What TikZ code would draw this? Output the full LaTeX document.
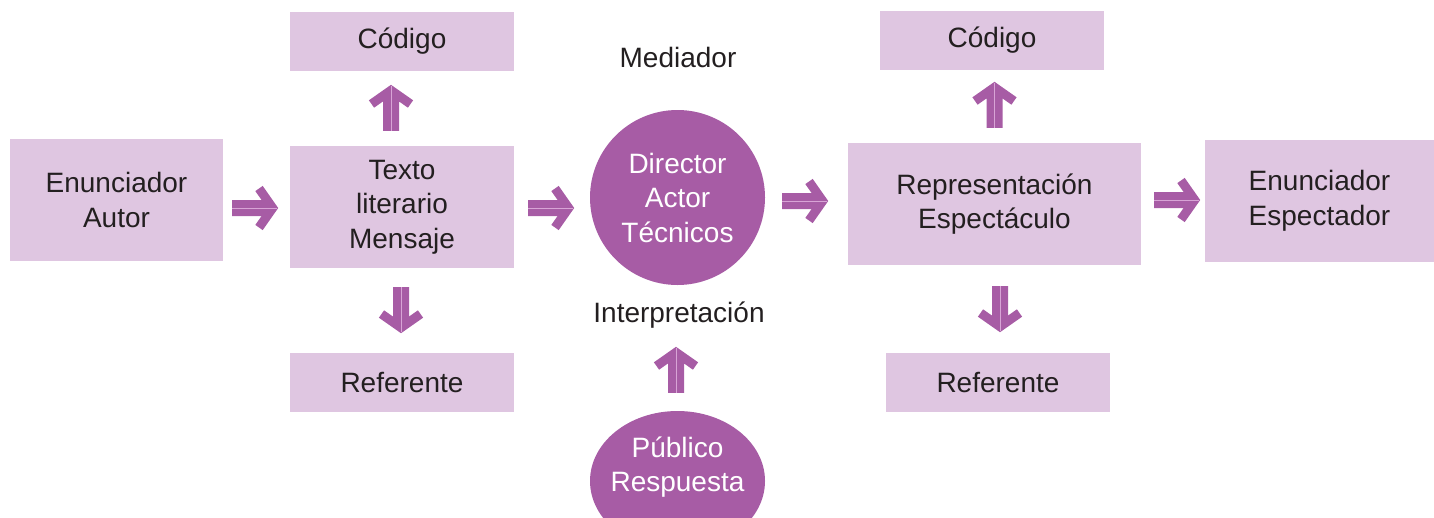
\documentclass[tikz,border=0pt]{standalone}
\usepackage{fontspec}
\setmainfont{Liberation Sans}
\usetikzlibrary{calc,shapes.geometric}
\definecolor{boxfill}{RGB}{223,198,225}
\definecolor{purp}{RGB}{167,92,165}
\definecolor{purpline}{RGB}{216,164,214}
\definecolor{txt}{RGB}{35,31,32}
\tikzset{
  lbox/.style={rectangle, fill=boxfill, draw=none, inner sep=0pt, align=center,
    text=txt, font=\fontsize{28}{34.5}\selectfont},
  pshape/.style={fill=purp, draw=none, inner sep=0pt, align=center,
    text=white, font=\fontsize{28}{34.5}\selectfont},
  plain/.style={inner sep=0pt, text=txt, font=\fontsize{28}{34.5}\selectfont},
  whitetxt/.style={inner sep=0pt, text=white, align=center, font=\fontsize{28}{34.5}\selectfont},
  fatfill/.style={fill=purp, draw=none},
  fatmid/.style={draw=purpline, line width=0.8pt}
}
\newcommand{\fatarrow}[2]{%
  \begin{scope}[shift={#1}, rotate=#2]
    \fill[fatfill] (0,-8) -- (29.4,-8) -- (23.1,-16.9) -- (30.5,-22.1) -- (46,0)
      -- (30.5,22.1) -- (23.1,16.9) -- (29.4,8) -- (0,8) -- cycle;
    \draw[fatmid] (0,0) -- (45,0);
  \end{scope}}
\begin{document}
\begin{tikzpicture}[x=1pt, y=-1pt]
  \useasboundingbox (0,0) rectangle (1434,517);
  % boxes
  \node[lbox, minimum width=213pt, minimum height=122pt] (enA) at (116.5,200) {Enunciador\\Autor};
  \node[lbox, minimum width=224pt, minimum height=122pt] (texto) at (402,207) {Texto\\literario\\Mensaje};
  \node[lbox, minimum width=224pt, minimum height=59pt] (codL) at (402,41.5) {Código};
  \node[lbox, minimum width=224pt, minimum height=59pt] (refL) at (402,382.5) {Referente};
  \node[pshape, circle, minimum size=175pt] (circ) at (677.5,197.5) {Director\\Actor\\Técnicos};
  \node[plain, anchor=base] (med) at (678,67) {Mediador};
  \node[plain, anchor=base] (interp) at (679,322) {Interpretación};
  \node[pshape, ellipse, minimum width=175pt, minimum height=140pt] (pub) at (677.5,481) {};
  \node[whitetxt] (pubtxt) at (677.5,467) {Público\\Respuesta};
  \node[lbox, minimum width=293pt, minimum height=122pt] (repr) at (994.5,204) {Representación\\Espectáculo};
  \node[lbox, minimum width=224pt, minimum height=59pt] (codR) at (992,40.5) {Código};
  \node[lbox, minimum width=224pt, minimum height=59pt] (refR) at (998,382.5) {Referente};
  \node[lbox, minimum width=229pt, minimum height=122pt] (enE) at (1319.5,201) {Enunciador\\Espectador};
  % arrows
  \fatarrow{($(enA.east |- texto.center)+(9,1)$)}{0}
  \fatarrow{($(texto.east)+(14,1)$)}{0}
  \fatarrow{($(circ.east)+(17,3.5)$)}{0}
  \fatarrow{($(repr.east)+(13,-4)$)}{0}
  \fatarrow{($(texto.north)+(-11,-15)$)}{90}
  \fatarrow{($(texto.south)+(-1,19)$)}{-90}
  \fatarrow{($(repr.north)+(0,-15)$)}{90}
  \fatarrow{($(repr.south)+(5.5,21)$)}{-90}
  \fatarrow{($(pub.north)+(-1.5,-18)$)}{90}
\end{tikzpicture}
\end{document}
